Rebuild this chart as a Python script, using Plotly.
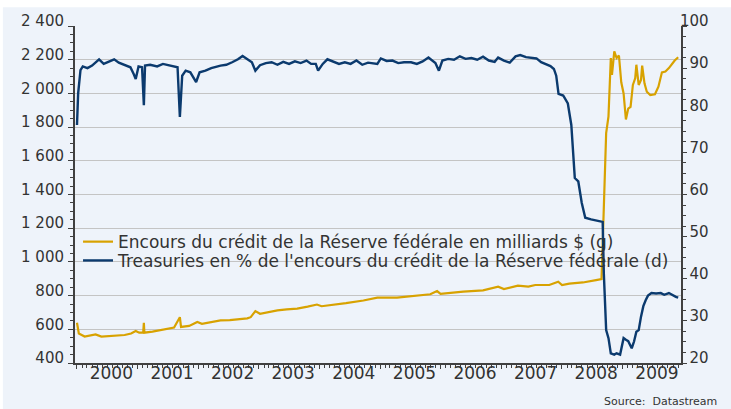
import plotly.graph_objects as go

# ---- data ----
credit_dates = [
    "2000-01-01", "2000-01-12", "2000-02-16", "2000-03-22", "2000-04-22", "2000-05-27",
    "2000-07-05", "2000-08-12", "2000-10-14", "2000-11-22", "2000-12-20", "2001-01-10",
    "2001-02-03", "2001-02-07", "2001-02-10", "2001-03-31", "2001-05-19", "2001-07-04",
    "2001-08-08", "2001-09-12", "2001-09-19", "2001-11-07", "2001-12-26", "2002-01-23",
    "2002-03-13", "2002-05-15", "2002-07-10", "2002-08-28", "2002-10-23", "2002-11-13",
    "2002-12-11", "2003-01-08", "2003-02-19", "2003-04-23", "2003-06-18", "2003-08-20",
    "2003-10-22", "2003-12-17", "2004-01-14", "2004-04-14", "2004-06-09", "2004-09-22",
    "2004-12-15", "2005-04-13", "2005-07-06", "2005-10-30", "2005-12-10", "2005-12-31",
    "2006-05-17", "2006-09-13", "2006-12-13", "2007-01-17", "2007-04-11", "2007-06-13",
    "2007-07-25", "2007-10-17", "2007-12-10", "2008-01-02", "2008-02-15", "2008-05-07",
    "2008-07-25", "2008-08-27", "2008-09-10", "2008-09-17", "2008-09-24", "2008-10-08",
    "2008-10-22", "2008-10-29", "2008-11-12", "2008-11-26", "2008-12-10", "2008-12-24",
    "2009-01-07", "2009-01-21", "2009-02-04", "2009-02-18", "2009-03-04", "2009-03-18",
    "2009-03-25", "2009-04-08", "2009-04-22", "2009-04-29", "2009-05-13", "2009-05-27",
    "2009-06-17", "2009-07-15", "2009-08-05", "2009-08-26", "2009-09-16", "2009-10-07",
    "2009-10-28", "2009-11-11", "2009-12-02",
]
credit_values = [
    639, 575, 557, 562, 570, 557,
    560, 561, 566, 575, 590, 580,
    580, 639, 580, 586, 595, 604,
    610, 672, 614, 620, 643, 633,
    640, 653, 655, 659, 665, 672,
    708, 692, 700, 712, 718, 723,
    735, 747, 737, 747, 755, 771,
    788, 788, 798, 808, 827, 810,
    824, 831, 853, 839, 859, 853,
    863, 863, 882, 863, 871, 878,
    892, 898, 1326, 1600, 1765, 1864,
    2210, 2110, 2250, 2210, 2225, 2066,
    2000, 1845, 1910, 1920, 2050, 2090,
    2170, 2050, 2080, 2165, 2060, 2010,
    1990, 1995, 2040, 2125, 2130, 2150,
    2180, 2195, 2215,
]

treas_dates = [
    "2000-01-01", "2000-01-08", "2000-01-22", "2000-02-05", "2000-03-04", "2000-04-01",
    "2000-05-13", "2000-06-10", "2000-07-08", "2000-08-12", "2000-09-09", "2000-10-14",
    "2000-11-18", "2000-12-09", "2000-12-20", "2001-01-06", "2001-01-27", "2001-02-07",
    "2001-02-14", "2001-03-17", "2001-04-28", "2001-06-02", "2001-07-14", "2001-08-29",
    "2001-09-12", "2001-09-26", "2001-10-17", "2001-11-14", "2001-12-19", "2002-01-09",
    "2002-02-13", "2002-03-20", "2002-05-15", "2002-06-19", "2002-07-24", "2002-08-28",
    "2002-09-25", "2002-10-23", "2002-11-20", "2002-12-11", "2003-01-08", "2003-02-12",
    "2003-03-19", "2003-04-23", "2003-05-28", "2003-07-02", "2003-08-06", "2003-09-10",
    "2003-10-15", "2003-11-12", "2003-12-10", "2003-12-24", "2004-01-21", "2004-02-18",
    "2004-03-24", "2004-04-28", "2004-06-02", "2004-07-07", "2004-08-11", "2004-09-15",
    "2004-10-20", "2004-12-15", "2005-01-05", "2005-02-09", "2005-03-16", "2005-04-20",
    "2005-05-25", "2005-07-06", "2005-08-10", "2005-09-14", "2005-10-19", "2005-11-30",
    "2005-12-21", "2006-01-11", "2006-02-15", "2006-03-22", "2006-04-26", "2006-05-31",
    "2006-07-05", "2006-08-09", "2006-09-13", "2006-10-18", "2006-11-22", "2006-12-13",
    "2007-01-17", "2007-02-21", "2007-03-28", "2007-04-25", "2007-05-30", "2007-07-04",
    "2007-08-01", "2007-08-29", "2007-09-26", "2007-10-24", "2007-11-14", "2007-11-28",
    "2007-12-12", "2008-01-09", "2008-02-06", "2008-02-27", "2008-03-19", "2008-04-09",
    "2008-04-30", "2008-05-21", "2008-06-25", "2008-07-30", "2008-08-20", "2008-09-03",
    "2008-09-10", "2008-09-24", "2008-10-08", "2008-10-22", "2008-11-12", "2008-11-26",
    "2008-12-17", "2009-01-07", "2009-01-21", "2009-02-04", "2009-02-25", "2009-03-11",
    "2009-03-25", "2009-04-08", "2009-04-22", "2009-05-06", "2009-05-20", "2009-06-03",
    "2009-06-24", "2009-07-22", "2009-08-19", "2009-09-09", "2009-10-07", "2009-10-28",
    "2009-11-18", "2009-12-02",
]
treas_values = [
    76.5, 84.0, 89.5, 90.4, 90.0, 90.6,
    92.1, 91.0, 91.5, 92.1, 91.3, 90.8,
    90.2, 88.5, 87.4, 90.4, 90.2, 81.2,
    90.6, 90.8, 90.4, 91.0, 90.6, 90.2,
    78.4, 88.2, 89.4, 89.0, 86.7, 89.0,
    89.4, 90.0, 90.6, 90.8, 91.4, 92.1,
    92.9, 92.1, 91.4, 89.4, 90.7, 91.2,
    91.4, 90.8, 91.5, 91.0, 91.6, 91.2,
    91.8, 91.0, 91.0, 89.4, 91.0, 92.1,
    91.5, 91.0, 91.4, 91.0, 91.8, 90.8,
    91.3, 91.0, 92.3, 91.7, 91.8, 91.2,
    91.4, 91.4, 91.0, 91.6, 92.5, 91.2,
    89.4, 91.8, 92.2, 92.0, 92.8, 92.2,
    92.4, 92.0, 92.7, 91.8, 91.5, 92.5,
    91.8, 91.3, 92.8, 93.1, 92.6, 92.5,
    92.3, 91.4, 91.0, 90.5, 89.8, 88.2,
    83.9, 83.5, 81.6, 76.5, 63.9, 63.1,
    58.0, 54.5, 54.1, 53.8, 53.7, 53.5,
    41.2, 27.8, 25.9, 22.3, 22.0, 22.3,
    22.0, 25.9, 25.5, 25.2, 23.5, 25.1,
    27.4, 27.8, 31.0, 33.5, 34.9, 36.0,
    36.6, 36.5, 36.6, 36.2, 36.6, 36.1,
    35.7, 35.5,
]

left_ticks = [400, 600, 800, 1000, 1200, 1400, 1600, 1800, 2000, 2200, 2400]
left_labels = ["400", "600", "800", "1 000", "1 200", "1 400", "1 600", "1 800",
               "2 000", "2 200", "2 400"]
right_ticks = [20, 30, 40, 50, 60, 70, 80, 90, 100]
right_labels = ["\u200720", "\u200730", "\u200740", "\u200750", "\u200760", "\u200770",
                "\u200780", "\u200790", "100"]

name_credit = "Encours du crédit de la Réserve fédérale en milliards $ (g)"
name_treas = "Treasuries en % de l'encours du crédit de la Réserve fédérale (d)"

GOLD = "#D8A200"
NAVY = "#0B3A6E"
BG = "#EEF3FA"
AXIS = "#404040"
TXT = "#333333"
FONT = "DejaVu Sans"

fig = go.Figure()
fig.add_trace(go.Scatter(x=credit_dates, y=credit_values, name=name_credit, mode="lines",
                         line=dict(color=GOLD, width=2.2), yaxis="y", legend="legend"))
fig.add_trace(go.Scatter(x=treas_dates, y=treas_values, name=name_treas, mode="lines",
                         line=dict(color=NAVY, width=2.4), yaxis="y2", legend="legend2"))

leg_common = dict(xanchor="left", yanchor="middle", bgcolor="rgba(0,0,0,0)", borderwidth=0,
                  font=dict(family=FONT, size=17, color=TXT), itemwidth=30)

fig.update_layout(
    width=731, height=409,
    margin=dict(l=75, r=50, t=23, b=46),
    paper_bgcolor="white", plot_bgcolor="rgba(0,0,0,0)",
    font=dict(family=FONT, size=15, color=TXT),
    showlegend=True,
    legend=dict(x=0.005, y=0.3588, **leg_common),
    legend2=dict(x=0.005, y=0.3030, **leg_common),
    shapes=[dict(type="rect", xref="paper", yref="paper", layer="below",
                 x0=-0.119, x1=1.09, y0=-0.14, y1=1.056,
                 fillcolor=BG, line=dict(width=0))],
    xaxis=dict(
        type="date", range=["1999-12-20", "2009-12-19"],
        tick0="2000-01-01", dtick="M12", tickformat="%Y", ticklabelmode="period",
        ticks="outside", ticklen=4, tickcolor=AXIS, tickwidth=1,
        minor=dict(dtick="M1", tick0="2000-01-01", ticks="outside", ticklen=3,
                   tickcolor=AXIS, showgrid=False),
        showline=True, linecolor=AXIS, linewidth=2, showgrid=False, zeroline=False,
        tickfont=dict(family=FONT, size=17, color=TXT), ticklabelshift=4,
        ticklabelstandoff=-10,
    ),
    yaxis=dict(
        range=[400, 2400], tickvals=left_ticks, ticktext=left_labels,
        ticks="outside", ticklen=5, tickcolor=AXIS, tickwidth=1,
        minor=dict(dtick=50, ticks="outside", ticklen=3, tickcolor=AXIS, showgrid=False),
        showline=True, linecolor=AXIS, linewidth=2,
        showgrid=True, gridcolor="#C4C4C4", gridwidth=1, zeroline=False,
        tickfont=dict(family=FONT, size=15, color=TXT), ticklabelshift=-5,
        ticklabelstandoff=1,
    ),
    yaxis2=dict(
        range=[20, 100], tickvals=right_ticks, ticktext=right_labels,
        overlaying="y", side="right",
        ticks="outside", ticklen=4, tickcolor=AXIS, tickwidth=1,
        minor=dict(dtick=2.5, ticks="outside", ticklen=3, tickcolor=AXIS, showgrid=False),
        showline=True, linecolor=AXIS, linewidth=2, showgrid=False, zeroline=False,
        tickfont=dict(family=FONT, size=15, color=TXT), ticklabelshift=-5,
        ticklabelstandoff=-10,
    ),
    annotations=[dict(text="Source:  Datastream", xref="paper", yref="paper",
                      x=1.063, y=-0.088, xanchor="right", yanchor="top", showarrow=False,
                      font=dict(family=FONT, size=11, color=TXT))],
)

fig.write_html("out.html", config={"displayModeBar": False},
               post_script="document.body.style.margin='0';")
